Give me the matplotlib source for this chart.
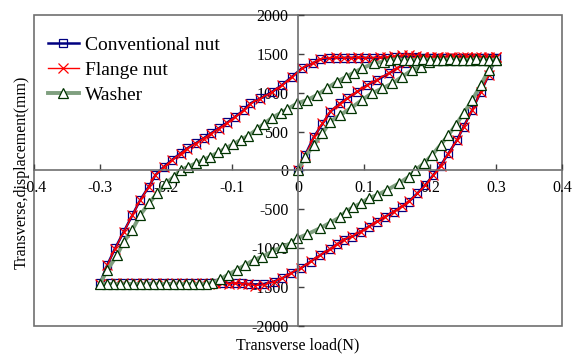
import matplotlib
matplotlib.use("Agg")
import matplotlib.pyplot as plt
from matplotlib.patches import Rectangle

plt.rcParams["font.family"] = ["Liberation Serif", "DejaVu Serif"]
plt.rcParams["axes.unicode_minus"] = False

# -------------------------
# Data
# -------------------------

# Conventional nut: loading, unloading, lower plateau, reloading, upper plateau
conv_x = [0, 0.011, 0.024, 0.037, 0.049, 0.064, 0.075, 0.09, 0.105, 0.12,
          0.138, 0.15, 0.163, 0.175, 0.19, 0.2, 0.21, 0.22, 0.23, 0.24,
          0.25, 0.26, 0.27, 0.28, 0.29, 0.3,
          0.289, 0.277, 0.264, 0.251, 0.241, 0.228, 0.216, 0.205, 0.193, 0.181,
          0.168, 0.157, 0.145, 0.132, 0.12, 0.107, 0.095, 0.082, 0.069, 0.059,
          0.049, 0.034, 0.019, 0.004, -0.011, -0.024, -0.037, -0.052,
          -0.065, -0.075, -0.085, -0.095, -0.105, -0.115, -0.125, -0.135,
          -0.145, -0.155, -0.165, -0.175, -0.185, -0.195, -0.205, -0.215,
          -0.225, -0.235, -0.245, -0.255, -0.265, -0.275, -0.285, -0.3,
          -0.289, -0.277, -0.264, -0.251, -0.239, -0.226, -0.216, -0.203,
          -0.191, -0.178, -0.168, -0.155, -0.143, -0.132, -0.12, -0.107,
          -0.095, -0.082, -0.072, -0.057, -0.039, -0.024, -0.009, 0.006,
          0.022, 0.034,
          0.047, 0.058, 0.069, 0.08, 0.091, 0.102, 0.113, 0.124, 0.135, 0.146,
          0.157, 0.168, 0.179, 0.19, 0.201, 0.212, 0.223, 0.234, 0.245, 0.256,
          0.267, 0.278, 0.289, 0.3]
conv_y = [0, 200, 430, 600, 756, 864, 928, 1013, 1100, 1164,
          1250, 1314, 1379, 1443, 1450, 1452, 1450, 1450, 1452, 1450,
          1450, 1452, 1450, 1450, 1452, 1450,
          1228, 1013, 778, 563, 392, 221, 62, -60, -186, -293,
          -401, -465, -530, -595, -658, -722, -787, -850, -890, -950,
          -1010, -1087, -1173, -1258, -1322, -1386, -1430, -1460,
          -1465, -1458, -1452, -1450, -1448, -1450, -1452, -1450,
          -1448, -1450, -1452, -1450, -1448, -1450, -1452, -1450,
          -1448, -1450, -1452, -1450, -1448, -1450, -1452, -1450,
          -1215, -1000, -787, -572, -379, -208, -58, 49,
          135, 221, 285, 350, 414, 478, 543, 618,
          692, 778, 864, 928, 1013, 1100, 1206, 1314,
          1379, 1430,
          1445, 1448, 1450, 1450, 1452, 1450, 1448, 1450, 1452, 1455,
          1460, 1462, 1458, 1452, 1450, 1452, 1450, 1448, 1450, 1452,
          1450, 1450, 1452, 1450]

# Flange nut follows almost the same path
flange_x = conv_x
flange_y = [0, 195, 425, 605, 760, 860, 935, 1020, 1095, 1170,
            1255, 1320, 1385, 1448, 1455, 1450, 1455, 1448, 1455, 1450,
            1455, 1448, 1455, 1450, 1455, 1455,
            1225, 1010, 775, 560, 390, 218, 60, -62, -188, -295,
            -398, -462, -528, -592, -655, -720, -785, -848, -888, -948,
            -1008, -1085, -1170, -1255, -1320, -1384, -1432, -1470,
            -1480, -1462, -1455, -1448, -1455, -1450, -1448, -1455,
            -1450, -1448, -1455, -1450, -1448, -1455, -1450, -1448,
            -1455, -1450, -1448, -1455, -1450, -1448, -1455, -1455,
            -1218, -1005, -790, -575, -382, -210, -60, 46,
            132, 218, 282, 347, 411, 475, 540, 615,
            690, 775, 860, 925, 1010, 1098, 1204, 1312,
            1382, 1435,
            1450, 1455, 1450, 1448, 1455, 1450, 1448, 1455, 1460, 1470,
            1480, 1490, 1478, 1465, 1458, 1455, 1450, 1455, 1450, 1455,
            1450, 1455, 1450, 1455]

washer_x = [0, 0.011, 0.024, 0.037, 0.049, 0.064, 0.08, 0.097, 0.112, 0.128,
            0.143, 0.158, 0.173, 0.186, 0.198, 0.21, 0.22, 0.23, 0.24, 0.25,
            0.26, 0.27, 0.28, 0.29, 0.3,
            0.289, 0.277, 0.264, 0.251, 0.239, 0.228, 0.216, 0.203, 0.191,
            0.178, 0.168, 0.153, 0.135, 0.12, 0.107, 0.095, 0.083, 0.072,
            0.064, 0.049, 0.034, 0.014, -0.001, -0.011, -0.024, -0.039,
            -0.054, -0.067, -0.08, -0.093, -0.106, -0.118, -0.13,
            -0.14, -0.15, -0.16, -0.17, -0.18, -0.19, -0.2, -0.21, -0.22,
            -0.23, -0.24, -0.25, -0.26, -0.27, -0.28, -0.29, -0.3,
            -0.289, -0.274, -0.264, -0.251, -0.239, -0.226, -0.213, -0.2,
            -0.188, -0.178, -0.166, -0.155, -0.144, -0.133, -0.121, -0.11,
            -0.098, -0.087, -0.075, -0.062, -0.052, -0.039, -0.026, -0.016,
            -0.001, 0.014, 0.029, 0.044, 0.059, 0.072, 0.085, 0.097, 0.115,
            0.13,
            0.14, 0.15, 0.16, 0.17, 0.18, 0.19, 0.2, 0.21, 0.22, 0.23, 0.24,
            0.25, 0.26, 0.27, 0.28, 0.29, 0.3]
washer_y = [0, 178, 328, 478, 628, 714, 800, 907, 993, 1057,
            1121, 1206, 1293, 1335, 1390, 1420, 1422, 1420, 1418, 1420,
            1422, 1420, 1418, 1420, 1420,
            1293, 1100, 907, 735, 585, 457, 328, 199, 92,
            6, -80, -165, -251, -315, -358, -422, -475, -530,
            -600, -670, -740, -820, -872, -937, -980, -1044,
            -1108, -1151, -1215, -1280, -1340, -1400, -1445,
            -1460, -1462, -1460, -1458, -1460, -1462, -1460, -1458, -1460,
            -1462, -1460, -1458, -1460, -1462, -1460, -1458, -1460,
            -1280, -1087, -916, -765, -572, -422, -293, -165,
            -80, 6, 50, 92, 135, 178, 232, 285,
            338, 392, 450, 530, 600, 680, 740, 790,
            864, 907, 971, 1057, 1142, 1200, 1260, 1314, 1379,
            1400,
            1425, 1428, 1425, 1422, 1425, 1428, 1425, 1422, 1425, 1428, 1425,
            1422, 1425, 1428, 1425, 1422, 1425]

x_ticks = [-0.4, -0.3, -0.2, -0.1, 0, 0.1, 0.2, 0.3, 0.4]
x_tick_labels = ["-0.4", "-0.3", "-0.2", "-0.1", "0", "0.1", "0.2", "0.3", "0.4"]
y_ticks = [-2000, -1500, -1000, -500, 0, 500, 1000, 1500, 2000]
y_tick_labels = ["-2000", "-1500", "-1000", "-500", "0", "500", "1000", "1500", "2000"]

# -------------------------
# Plot
# -------------------------
fig = plt.figure(figsize=(5.79, 3.56), dpi=100)
ax = fig.add_axes([0.0587, 0.0843, 0.9119, 0.8736])

ax.plot(conv_x, conv_y, color="#000080", linewidth=1.8, marker="s",
        markersize=5.5, markerfacecolor="none", markeredgecolor="#000080",
        markeredgewidth=0.9, label="Conventional nut")
ax.plot(flange_x, flange_y, color="#ff0000", linewidth=1.0, marker="x",
        markersize=6.5, markeredgewidth=0.9, label="Flange nut")
ax.plot(washer_x, washer_y, color="#7f9f7f", linewidth=2.8, marker="^",
        markersize=6.5, markerfacecolor="white", markeredgecolor="#003300",
        markeredgewidth=0.9, label="Washer")

ax.set_xlim(-0.4, 0.4)
ax.set_ylim(-2000, 2000)
ax.set_xticks(x_ticks)
ax.set_xticklabels(x_tick_labels)
ax.set_yticks(y_ticks)
ax.set_yticklabels(y_tick_labels)

# axes crossing at the origin, grey box around the plot area
for side in ["top", "right"]:
    ax.spines[side].set_visible(False)
ax.spines["left"].set_position(("data", 0))
ax.spines["bottom"].set_position(("data", 0))
for side in ["left", "bottom"]:
    ax.spines[side].set_color("#707070")
    ax.spines[side].set_linewidth(1.2)
ax.add_patch(Rectangle((0, 0), 1, 1, transform=ax.transAxes, fill=False,
                       edgecolor="#707070", linewidth=1.2, clip_on=False))

ax.tick_params(axis="both", direction="in", length=4, width=1.0,
               color="#404040", labelsize=11.5, pad=7)

ax.legend(loc="upper left", bbox_to_anchor=(0.0, 0.976), frameon=False,
          fontsize=14, handlelength=1.6, handletextpad=0.3,
          labelspacing=0.38, borderaxespad=0.3)

fig.text(0.515, 0.03, "Transverse load(N)", ha="center", va="center",
         fontsize=11.5)
fig.text(0.037, 0.515, "Transverse,displacement(mm)", ha="center",
         va="center", rotation=90, fontsize=11.5)

fig.savefig("out.png", dpi=100)
